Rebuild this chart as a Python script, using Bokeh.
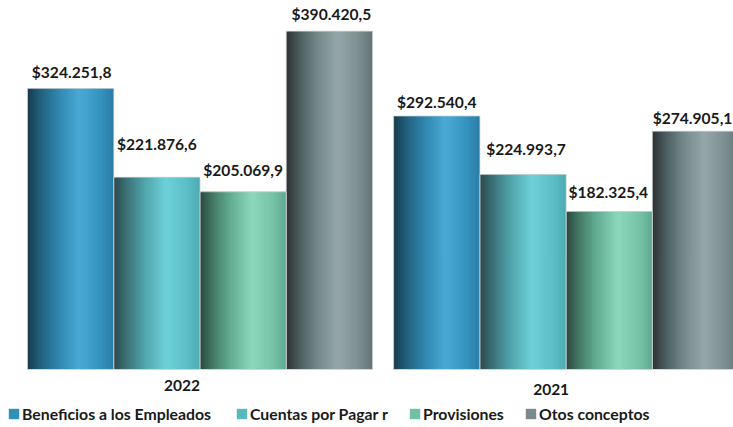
from bokeh.plotting import figure
from bokeh.models import Range1d, ColumnDataSource, Legend, LegendItem
from bokeh.core.properties import value
from bokeh.embed import file_html
from bokeh.resources import INLINE

# ---------------- data ----------------
groups = ["2022", "2021"]
series = ["Beneficios a los Empleados", "Cuentas por Pagar r", "Provisiones", "Otos conceptos"]
values_2022 = [324251.8, 221876.6, 205069.9, 390420.5]
values_2021 = [292540.4, 224993.7, 182325.4, 274905.1]
legend_colors = ["#3090b8", "#58b8c0", "#70c0a4", "#7a8a8c"]

# ---------------- style ----------------
FONT = "Lato"
gradient_stops = [
    [(0.0, "#173a4c"), (0.15, "#22617e"), (0.35, "#2f84ac"), (0.6, "#4aaad6"), (0.85, "#3592be"), (1.0, "#2a7ca4")],
    [(0.0, "#2c484c"), (0.15, "#3b7378"), (0.35, "#4fa3aa"), (0.6, "#6ed0d8"), (0.85, "#5cbec6"), (1.0, "#4caab2")],
    [(0.0, "#2b463c"), (0.15, "#437a66"), (0.35, "#62ac92"), (0.6, "#8cd8bc"), (0.85, "#76c2a6"), (1.0, "#5ea890")],
    [(0.0, "#2c3234"), (0.15, "#4a5c5e"), (0.35, "#728688"), (0.6, "#96a7a9"), (0.85, "#7c8d8f"), (1.0, "#627376")],
]
# label placement offsets (screen px), as positioned in the original
label_dy = [-17, -33, -22, -17, -14, -26, -20, -13.5]
label_dx = [1, 0, 0, 2, 0, 3, -1, -3]
group_dx = [-18, -15]
group_dy = [16, 20]

N_STRIPS = 40
GROUP_GAP = 0.245
PX_PER_UNIT = 86.25
W, H = 733, 427
LEFT_PX = 27
BASE_PX = 369


def hex_to_rgb(h):
    h = h.lstrip("#")
    return tuple(int(h[i:i + 2], 16) for i in (0, 2, 4))


def interp(stops, t):
    for (t0, c0), (t1, c1) in zip(stops[:-1], stops[1:]):
        if t0 <= t <= t1:
            f = (t - t0) / (t1 - t0)
            a, b = hex_to_rgb(c0), hex_to_rgb(c1)
            return "#%02x%02x%02x" % tuple(round(a[k] + (b[k] - a[k]) * f) for k in range(3))
    return stops[-1][1]


def fmt(v):
    s = f"{v:,.1f}"
    return "$" + s.replace(",", "#").replace(".", ",").replace("#", ".")


x_start = -LEFT_PX / PX_PER_UNIT
x_end = x_start + W / PX_PER_UNIT
y_scale = 0.8665 / 1000.0  # px per unit value
y_top = BASE_PX / y_scale
y_bot = -(H - BASE_PX) / y_scale

p = figure(width=W, height=H, x_range=Range1d(x_start, x_end), y_range=Range1d(y_bot, y_top),
           output_backend="svg", toolbar_location=None, min_border=0,
           x_axis_type=None, y_axis_type=None)
p.grid.visible = False
p.outline_line_color = None
p.background_fill_color = "white"
p.border_fill_color = "white"

all_values = [values_2022, values_2021]

# gradient strips (slightly overlapping to avoid seams)
L, R, T, C = [], [], [], []
bx, bt, lt = [], [], []
for g, vals in enumerate(all_values):
    g0 = g * (len(series) + GROUP_GAP)
    for i, v in enumerate(vals):
        left = g0 + i
        for j in range(N_STRIPS):
            L.append(left + j / N_STRIPS)
            R.append(min(left + (j + 1.8) / N_STRIPS, left + 1))
            T.append(v)
            C.append(interp(gradient_stops[i], (j + 0.5) / N_STRIPS))
        bx.append(left + 0.5)
        bt.append(v)
        lt.append(fmt(v))

strip_src = ColumnDataSource(dict(left=L, right=R, top=T, bottom=[0] * len(T), color=C))
p.quad(left="left", right="right", top="top", bottom="bottom", source=strip_src,
       fill_color="color", line_color=None)

bar_src = ColumnDataSource(dict(x=bx, top=bt, label=lt, dx=label_dx, dy=label_dy))
p.vbar(x="x", top="top", width=1.0, bottom=0, source=bar_src, fill_alpha=0,
       line_color="#c9cfd0", line_width=1, line_alpha=0.7)

# baselines per group
seg_x0 = [g * (len(series) + GROUP_GAP) for g in range(len(groups))]
seg_x1 = [x + len(series) for x in seg_x0]
p.segment(x0=seg_x0, x1=seg_x1, y0=[0, 0], y1=[0, 0], line_color="#d4d4d4", line_width=1)

# value labels
p.text(x="x", y="top", text="label", source=bar_src, text_align="center",
       text_baseline="middle", x_offset="dx", y_offset="dy", text_font=value(FONT),
       text_font_style="bold", text_font_size="15.6px", text_color="#1a1a1a")

# group labels
gx = [x + len(series) / 2 for x in seg_x0]
p.text(x=gx, y=[0, 0], text=groups, text_align="center", text_baseline="middle",
       x_offset=group_dx, y_offset=group_dy, text_font=value(FONT),
       text_font_style="bold", text_font_size="15.5px", text_color="#1a1a1a")

# legend (one legend per item for exact placement)
nan = float("nan")
legend_x = [7, 235, 408, 524]
for name, col, lxp in zip(series, legend_colors, legend_x):
    r = p.quad(left=[nan], right=[nan], top=[nan], bottom=[nan], fill_color=col, line_color=None)
    lg = Legend(items=[LegendItem(label=name, renderers=[r])], location=(lxp, 4),
                orientation="horizontal", glyph_width=13, glyph_height=13, label_standoff=2,
                padding=0, margin=0, border_line_alpha=0, background_fill_alpha=0,
                label_text_font=FONT, label_text_font_style="bold", label_text_font_size="15.8px",
                label_text_color="#1a1a1a", label_height=13)
    p.add_layout(lg, "center")

open("out.html", "w").write(file_html(p, INLINE))
